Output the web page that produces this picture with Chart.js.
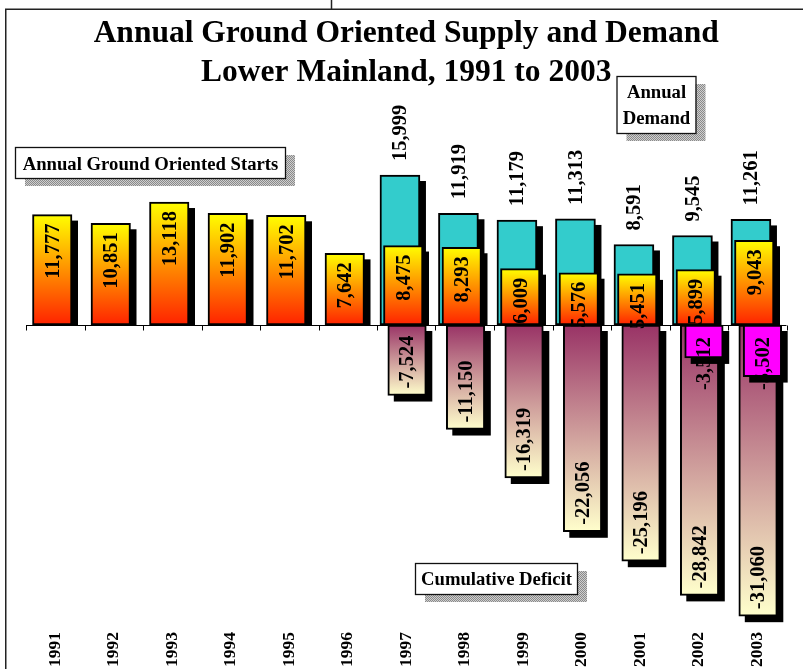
<!DOCTYPE html>
<html>
<head>
<meta charset="utf-8">
<title>Annual Ground Oriented Supply and Demand</title>
<script src="https://cdn.jsdelivr.net/npm/chart.js@4.4.1/dist/chart.umd.min.js"></script>
<style>
  html, body { margin: 0; padding: 0; background: #fff; }
  #wrap { width: 803px; height: 669px; position: relative; }
  canvas { display: block; }
</style>
</head>
<body>
<div id="wrap"><canvas id="chart" width="803" height="669"></canvas></div>
<script>
// ---- data ----
const years = ['1991', '1992', '1993', '1994', '1995', '1996', '1997',
               '1998', '1999', '2000', '2001', '2002', '2003'];
const annualStarts = [11777, 10851, 13118, 11902, 11702, 7642, 8475,
                      8293, 6009, 5576, 5451, 5899, 9043];
const annualDemand = [null, null, null, null, null, null, 15999,
                      11919, 11179, 11313, 8591, 9545, 11261];
const cumulativeDeficit = [null, null, null, null, null, null, -7524,
                           -11150, -16319, -22056, -25196, -28842, -31060];
const annualDeficit = [null, null, null, null, null, null, null,
                       null, null, null, null, -3512, -5502];

const titleLines = ['Annual Ground Oriented Supply and Demand', 'Lower Mainland, 1991 to 2003'];

const SERIF = '"Liberation Serif", "Times New Roman", serif';

// vertical gradient running from the bar's end to its base
function barGradient(endColor, baseColor) {
  return (c) => {
    const chart = c.chart;
    if (!chart.chartArea || c.type !== 'data' || c.raw == null) return baseColor;
    const y = chart.scales.y;
    const yEnd = y.getPixelForValue(c.raw);
    const yBase = y.getPixelForValue(0);
    if (!isFinite(yEnd) || yEnd === yBase) return baseColor;
    const g = chart.ctx.createLinearGradient(0, yEnd, 0, yBase);
    g.addColorStop(0, endColor);
    g.addColorStop(1, baseColor);
    return g;
  };
}

// per-bar drop shadow, sideways offset per series
const barStyle = {
  id: 'barStyle',
  beforeDatasetDraw(chart, args) {
    const ds = chart.data.datasets[args.index];
    const ctx = chart.ctx;
    ctx.save();
    ctx.translate(ds.shift || 0, 0);
    const y0 = chart.scales.y.getPixelForValue(0);
    ctx.save();
    if (ds.rises) {
      ctx.beginPath();
      ctx.rect(0, 0, chart.width, y0);
      ctx.clip();
    }
    ctx.fillStyle = '#000';
    args.meta.data.forEach((el, i) => {
      if (ds.data[i] == null) return;
      const p = el.getProps(['x', 'y', 'base', 'width'], true);
      const top = Math.min(p.y, p.base);
      const h = Math.abs(p.base - p.y);
      ctx.fillRect(p.x - p.width / 2 + 6, top + 6, p.width, h);
    });
    ctx.restore();
  },
  afterDatasetDraw(chart) {
    chart.ctx.restore();
  }
};

// zero line with category tick marks
const zeroAxis = {
  id: 'zeroAxis',
  beforeDatasetsDraw(chart) {
    const ctx = chart.ctx;
    const xs = chart.scales.x;
    const y0 = Math.round(chart.scales.y.getPixelForValue(0)) + 0.5;
    ctx.save();
    ctx.strokeStyle = '#000';
    ctx.lineWidth = 1;
    ctx.beginPath();
    ctx.moveTo(xs.left, y0);
    ctx.lineTo(xs.right, y0);
    const step = (xs.right - xs.left) / years.length;
    for (let i = 0; i <= years.length; i++) {
      const tx = Math.round(xs.getPixelForValue(i) - step / 2) + 0.5;
      ctx.moveTo(tx, y0);
      ctx.lineTo(tx, y0 + 5);
    }
    ctx.stroke();
    ctx.restore();
  }
};

// rotated value labels
const valueLabels = {
  id: 'valueLabels',
  afterDatasetsDraw(chart) {
    const ctx = chart.ctx;
    const y0 = chart.scales.y.getPixelForValue(0);
    chart.data.datasets.forEach((ds, di) => {
      const meta = chart.getDatasetMeta(di);
      meta.data.forEach((el, i) => {
        const v = ds.data[i];
        if (v == null) return;
        const x = el.x + (ds.shift || 0);
        const anchorY = (ds.labelAnchor === 'base' ? y0 : el.y) + ds.labelOffset;
        ctx.save();
        ctx.translate(x, anchorY);
        ctx.rotate(-Math.PI / 2);
        ctx.font = 'bold 20.5px ' + SERIF;
        ctx.fillStyle = '#000';
        ctx.textAlign = ds.labelAlign;
        ctx.textBaseline = 'middle';
        ctx.fillText(v.toLocaleString('en-US'), 0, 1);
        ctx.restore();
      });
    });
  }
};

// page frame and captions in shadowed boxes
function stipple(ctx) {
  const p = document.createElement('canvas');
  p.width = 2; p.height = 2;
  const pc = p.getContext('2d');
  pc.fillStyle = '#cfcfcf'; pc.fillRect(0, 0, 2, 2);
  pc.fillStyle = '#8a8a8a'; pc.fillRect(0, 0, 1, 1); pc.fillRect(1, 1, 1, 1);
  return ctx.createPattern(p, 'repeat');
}

const captions = [
  { lines: ['Annual Ground Oriented Starts'], x: 15, y: 147, w: 270, h: 31, base: [170] },
  { lines: ['Annual', 'Demand'], x: 616.5, y: 76, w: 79, h: 57, base: [98, 124] },
  { lines: ['Cumulative Deficit'], x: 415, y: 563, w: 162, h: 31, base: [585] }
];

const frame = {
  id: 'frame',
  beforeDraw(chart) {
    const ctx = chart.ctx;
    ctx.save();
    ctx.fillStyle = '#fff';
    ctx.fillRect(0, 0, chart.width, chart.height);
    ctx.strokeStyle = '#222';
    ctx.lineWidth = 1.5;
    ctx.beginPath();
    ctx.moveTo(5.75, chart.height);
    ctx.lineTo(5.75, 9.25);
    ctx.lineTo(chart.width, 9.25);
    ctx.moveTo(331.5, 0);
    ctx.lineTo(331.5, 9.25);
    ctx.stroke();
    ctx.restore();
  },
  afterDraw(chart) {
    const ctx = chart.ctx;
    const pat = stipple(ctx);
    ctx.save();
    captions.forEach(b => {
      ctx.fillStyle = pat;
      ctx.fillRect(b.x + 10, b.y + 8, b.w, b.h);
      ctx.fillStyle = '#fff';
      ctx.fillRect(b.x, b.y, b.w, b.h);
      ctx.strokeStyle = '#111';
      ctx.lineWidth = 1.3;
      ctx.strokeRect(b.x + 0.5, b.y + 0.5, b.w, b.h);
      ctx.fillStyle = '#000';
      ctx.font = 'bold 18.7px ' + SERIF;
      ctx.textAlign = 'center';
      ctx.textBaseline = 'alphabetic';
      b.lines.forEach((t, k) => ctx.fillText(t, b.x + b.w / 2 + 0.5, b.base[k]));
    });
    ctx.restore();
  }
};

const common = {
  type: 'bar',
  grouped: false,
  borderColor: '#000',
  borderWidth: 2,
  borderSkipped: false
};

new Chart(document.getElementById('chart'), {
  type: 'bar',
  data: {
    labels: years,
    datasets: [
      Object.assign({}, common, {
        label: 'Annual Ground Oriented Starts',
        data: annualStarts,
        backgroundColor: barGradient('#ffff00', '#ff2200'),
        barThickness: 39.5, shift: -3, rises: true, order: 3,
        labelAnchor: 'end', labelOffset: 9, labelAlign: 'right'
      }),
      Object.assign({}, common, {
        label: 'Annual Demand',
        data: annualDemand,
        backgroundColor: '#33cccc',
        barThickness: 40, shift: -6.3, rises: true, order: 4,
        labelAnchor: 'end', labelOffset: -14, labelAlign: 'left'
      }),
      Object.assign({}, common, {
        label: 'Cumulative Deficit',
        data: cumulativeDeficit,
        backgroundColor: barGradient('#ffffcc', '#993366'),
        barThickness: 38.5, shift: 0.8, rises: false, order: 2,
        labelAnchor: 'end', labelOffset: -7, labelAlign: 'left'
      }),
      Object.assign({}, common, {
        label: 'Annual Deficit',
        data: annualDeficit,
        backgroundColor: '#ff00ff',
        barThickness: 38.5, shift: 5.2, rises: false, order: 1,
        labelAnchor: 'base', labelOffset: 12, labelAlign: 'right'
      })
    ]
  },
  options: {
    responsive: false,
    animation: false,
    devicePixelRatio: 1,
    layout: { padding: { left: 26, right: 16.5, top: 0, bottom: 0 } },
    plugins: {
      legend: { display: false },
      tooltip: { enabled: false },
      title: {
        display: true,
        text: titleLines,
        color: '#000',
        font: { family: SERIF, weight: 'bold', size: 31.5, lineHeight: 1.25 },
        padding: { top: 14, bottom: 7.25 }
      }
    },
    scales: {
      x: {
        grid: { display: false, drawTicks: false },
        border: { display: false },
        ticks: {
          autoSkip: false,
          minRotation: 90,
          maxRotation: 90,
          padding: 7,
          color: '#000',
          font: { family: SERIF, weight: 'bold', size: 17.5 }
        },
        afterFit(scale) { scale.height = 44; }
      },
      y: {
        display: false,
        min: -32000,
        max: 24000
      }
    }
  },
  plugins: [frame, zeroAxis, barStyle, valueLabels]
});
</script>
</body>
</html>
